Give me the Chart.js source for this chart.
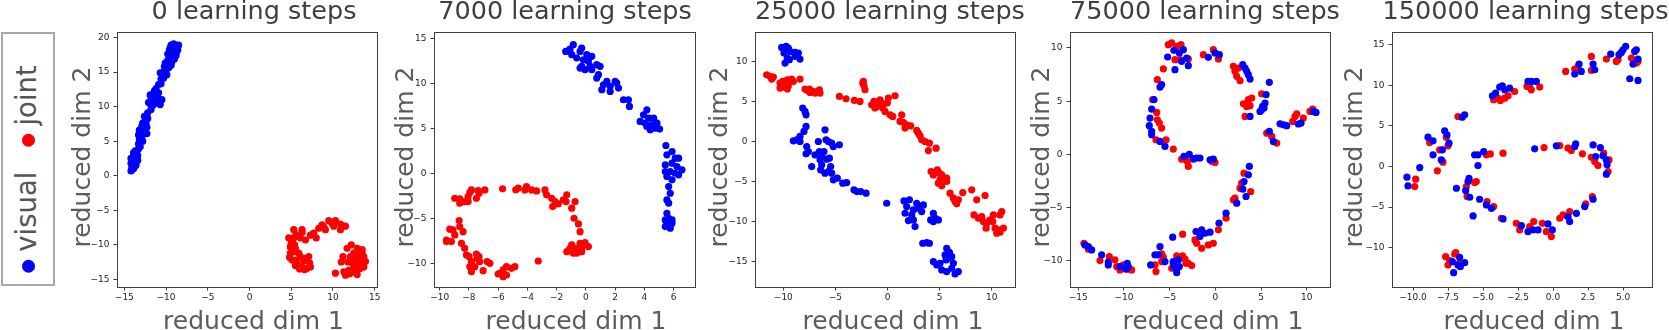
<!DOCTYPE html>
<html>
<head>
<meta charset="utf-8">
<script src="https://cdn.jsdelivr.net/npm/chart.js@4.4.1/dist/chart.umd.min.js"></script>
<style>
  html, body { margin: 0; padding: 0; background: #fff; overflow: hidden; }
  #figure { position: relative; width: 1669px; height: 330px; }
  #figure canvas { position: absolute; top: 0; }
  #legend {
    position: absolute; left: 1px; top: 32px; width: 54px; height: 254px;
    box-sizing: border-box; border: 2px solid #a8a8a8;
  }
  #legend ul {
    position: absolute; left: 22.5px; top: 134.5px; margin: 0; padding: 0;
    list-style: none; white-space: nowrap; line-height: 1;
    font: 27.5px "DejaVu Sans"; color: #555;
    transform: translate(-50%, -50%) rotate(-90deg);
  }
  #legend li { display: inline; }
  #legend li + li { margin-left: 25px; }
  .legend-dot {
    display: inline-block; width: 13px; height: 13px; border-radius: 50%;
    margin-right: 8px; vertical-align: middle;
  }
</style>
</head>
<body>
<div id="figure">
  <div id="legend"><ul id="legend-items"></ul></div>
</div>
<script>
const stepCounts = [0, 7000, 25000, 75000, 150000]

const visual0 = [
  [-14.2,0.7],[-14.1,1.2],[-13.9,1.0],[-14.2,1.8],[-13.9,1.6],[-14.0,2.3],[-13.7,2.1],[-13.8,2.7],
  [-13.5,2.5],[-13.6,3.1],[-13.4,2.9],[-13.5,3.5],[-13.3,3.9],[-13.6,1.5],[-13.4,2.2],[-14.2,2.5],
  [-13.9,3.3],[-14.1,0.9],[-13.8,1.3],[-13.7,3.6],[-13.1,4.2],
  [-13.3,4.6],[-13.2,5.2],[-13.3,5.9],[-13.0,5.8],[-13.2,6.6],[-12.9,6.5],[-12.7,6.0],[-12.6,6.9],
  [-12.9,7.2],[-12.5,6.4],[-12.4,7.5],[-12.5,7.9],[-12.2,8.3],[-12.2,9.1],
  [-12.8,5.0],[-12.3,6.1],[-12.8,7.6],[-12.3,7.0],[-12.6,8.6],[-11.8,9.6],
  [-12.1,10.6],[-11.9,10.8],[-11.7,11.0],[-11.9,10.4],[-11.5,11.5],[-11.3,10.7],[-11.6,10.2],[-11.2,11.9],
  [-10.9,12.0],[-11.0,11.3],[-10.7,10.3],[-11.2,12.6],[-10.9,13.2],[-10.6,14.0],
  [-11.6,10.7],[-11.9,11.7],[-11.4,12.3],[-10.5,11.0],[-10.9,10.6],[-11.4,10.4],[-10.6,13.3],
  [-10.4,14.5],[-10.3,15.0],[-10.0,15.3],[-10.2,15.8],[-9.9,16.2],[-9.7,15.6],[-9.8,16.7],[-9.5,17.0],
  [-9.6,17.4],[-9.3,17.3],[-9.4,17.9],[-9.1,17.7],[-9.2,18.3],[-8.9,18.1],[-9.0,18.7],[-8.7,18.5],
  [-8.8,18.9],[-8.6,18.2],[-8.7,18.7],[-9.5,18.5],[-9.6,18.2],[-8.8,17.8],[-9.0,16.9],[-9.3,16.5],
  [-10.3,14.1],[-10.7,14.9],[-10.1,16.3],[-9.8,17.6],[-9.4,18.9],[-9.1,19.1],[-8.5,18.9],[-8.8,17.4],
  [-9.4,16.0],[-9.9,14.6]
]
const joint0 = [
  [5.3,-7.8],[6.3,-7.8],[6.3,-8.2],[7.7,-8.3],[8.3,-7.6],[8.7,-7.1],[9.5,-6.5],[10.3,-6.5],
  [10.9,-7.0],[11.5,-7.3],[10.1,-7.3],[9.1,-7.8],[8.0,-9.0],[10.9,-7.8],[9.9,-6.9],[8.9,-7.4],[7.3,-8.6],
  [4.7,-9.0],[4.9,-10.3],[5.3,-11.0],[5.1,-12.2],[5.7,-12.7],[6.3,-13.2],[6.9,-13.4],[7.3,-13.2],
  [7.1,-11.7],[6.1,-11.7],[5.9,-11.2],[5.5,-10.5],[5.1,-9.5],[6.1,-9.0],[6.7,-9.3],[5.6,-8.5],
  [4.9,-11.2],[5.5,-13.0],[6.5,-12.3],[5.3,-9.0],
  [5.0,-9.8],[5.4,-10.0],[4.8,-11.8],[5.6,-12.2],[6.0,-13.5],[6.6,-13.6],[7.2,-12.6],[6.8,-11.9],
  [11.7,-10.5],[12.1,-11.7],[12.9,-10.5],[13.5,-10.7],[13.7,-11.7],[13.9,-12.4],[13.1,-12.7],[12.5,-13.2],
  [11.9,-13.7],[11.3,-13.9],[11.5,-14.4],[12.5,-13.9],[13.3,-13.4],[12.7,-12.0],[13.2,-11.5],[11.2,-11.7],
  [12.5,-11.2],[10.3,-14.1],[13.7,-13.2],[12.9,-13.8],[12.2,-10.0],[13.0,-11.1],
  [11.8,-12.5],[12.3,-12.6],[12.0,-14.2],[12.9,-14.3],[13.5,-11.2],[13.4,-12.1],[11.0,-12.5]
]

const visual7000 = [
  [-1.38,13.62],[-1.09,13.88],[-0.86,14.37],[-0.97,13.25],[-0.63,12.88],[-0.4,13.62],[-0.29,13.99],
  [-0.17,12.69],[-0.29,11.95],[0.06,13.25],[0.17,12.51],[0.4,13.07],[0.4,11.58],[0.74,12.14],[0.97,11.95],
  [0.86,11.02],[0.74,10.65],[0.29,11.95],[-0.4,11.76],[-0.06,11.58],
  [1.2,9.9],[1.43,10.28],[1.66,9.72],[1.09,9.35],[1.66,9.16],[2.11,10.09],[2.23,9.53],[2.0,10.28],
  [2.57,8.23],[2.91,8.23],[2.98,7.48],
  [3.71,5.81],[3.94,6.55],[4.17,7.11],[4.29,6.18],[4.17,5.25],[4.06,5.62],[4.51,5.44],[4.63,6.18],
  [4.86,5.62],[5.04,4.96],[4.74,5.07],[4.4,4.88],
  [5.47,3.13],[5.54,2.09],[5.89,2.46],[6.11,1.72],[6.34,1.72],[5.43,0.97],[5.89,1.16],[6.23,0.79],
  [6.57,0.42],[5.43,0.23],[5.77,0.23],[6.11,0.04],[6.34,-0.14],[5.54,-0.33],[5.89,-0.7],[5.66,-1.44],
  [5.77,-2.19],[5.54,-2.93],[5.66,-3.3],[5.54,-4.42],[5.66,-4.98],[5.43,-5.16],[5.89,-5.16],[5.54,-5.72],
  [5.77,-6.09],[5.43,-5.91],[5.89,-5.53],[5.71,-5.35]
]
const joint7000 = [
  [-5.7,-1.7],[-4.63,-1.63],[-4.06,-1.44],[-3.71,-1.82],[-3.37,-1.93],[-4.17,-1.82],[-2.8,-1.82],
  [-2.69,-2.37],[-2.34,-2.75],[-2.11,-3.12],[-2.27,-3.68],[-1.89,-3.38],[-1.54,-2.93],[-1.31,-2.37],
  [-1.36,-3.12],[-0.97,-3.86],[-0.74,-3.12],[-4.8,-1.8],
  [-0.81,-4.98],[-0.51,-5.61],[-0.4,-6.47],[-0.4,-7.77],[-0.06,-7.7],[0.17,-8.14],[-0.29,-8.33],
  [-0.63,-8.33],[-0.86,-8.88],[-1.09,-8.33],[-0.97,-7.95],[-0.63,-8.88],[-1.31,-8.7],[-0.29,-8.7],[-3.26,-9.74],
  [-4.86,-10.37],[-5.09,-10.56],[-5.43,-10.37],[-5.66,-10.74],[-5.89,-11.12],[-5.43,-11.3],[-5.66,-11.49],
  [-6.0,-11.19],[-6.57,-10.0],[-6.75,-9.81],[-7.03,-10.82],[-7.26,-9.81],[-7.44,-9.44],[-7.49,-8.96],
  [-7.83,-9.81],[-7.94,-10.37],[-7.83,-10.93],[-7.99,-9.26],[-8.17,-9.07],[-7.6,-10.37],[-7.31,-9.26],
  [-8.29,-8.33],[-8.51,-7.77],[-8.4,-6.47],[-8.63,-5.91],[-8.67,-5.24],[-8.97,-6.84],[-9.2,-7.58],
  [-9.54,-7.58],[-9.31,-6.2],[-9.54,-7.4],[-9.09,-6.28],
  [-8.97,-2.75],[-8.63,-2.82],[-8.63,-3.3],[-8.29,-3.12],[-8.06,-2.56],[-7.94,-2.11],[-7.83,-1.82],
  [-8.06,-3.12],[-7.49,-2.75],[-7.37,-1.89],[-7.31,-2.19],[-6.91,-1.82]
]

const visual25000 = [
  [-10.16,11.75],[-9.74,11.88],[-9.52,11.67],[-9.94,11.04],[-9.62,10.42],[-9.84,9.79],[-9.36,11.25],
  [-8.88,11.13],[-8.56,11.04],[-8.4,10.29],[-8.88,10.63],[-9.42,10.21],
  [-8.14,4.17],[-7.92,3.75],[-7.82,3.33],[-7.82,1.88],[-8.02,1.25],[-8.4,0.63],[-8.72,0.21],[-9.04,0.08],
  [-8.4,0.0],[-7.76,-0.63],[-7.6,-1.25],[-7.82,-1.54],[-7.28,-3.13],
  [-6.96,-1.67],[-6.64,0.0],[-6.54,-1.25],[-6.48,-2.29],[-6.32,-1.88],[-6.32,-2.92],[-6.42,-3.54],
  [-6.0,1.46],[-5.9,0.21],[-5.68,0.0],[-5.36,-0.21],[-5.2,-0.63],[-4.62,-0.42],[-5.84,-2.21],[-5.58,-2.08],
  [-6.0,-3.96],[-5.68,-3.75],[-5.46,-3.13],[-5.36,-3.96],[-6.1,-1.25],
  [-5.2,-4.79],[-4.82,-4.58],[-4.3,-5.21],[-3.92,-5.13],[-3.22,-6.04],[-2.96,-6.25],[-2.58,-6.25],
  [-2.06,-6.46],[-0.08,-7.71],
  [1.58,-7.42],[2.1,-7.29],[1.84,-8.13],[1.68,-8.96],[2.0,-9.88],[2.32,-9.17],[2.48,-8.54],[2.8,-7.71],
  [2.96,-8.33],[3.12,-8.13],[3.44,-7.92],[3.28,-8.75],[2.64,-10.63],[2.48,-9.79],[3.38,-12.71],
  [3.76,-12.63],[4.02,-12.71],[4.14,-9.79],[4.4,-8.96],[4.56,-9.58],[4.88,-9.79],[4.4,-10.0],
  [5.68,-13.33],[5.52,-14.17],[5.84,-14.58],[6.16,-14.38],[6.32,-15.21],[4.4,-15.0],[4.72,-15.42],
  [5.04,-15.21],[5.2,-16.04],[5.68,-16.25],[6.16,-15.83],[6.48,-16.54],[6.8,-16.25],[5.94,-13.83],[5.62,-14.79]
]
const joint25000 = [
  [-11.6,8.33],[-11.28,8.13],[-10.96,8.04],[-11.12,7.79],[-10.32,7.29],[-10.16,6.79],[-10.32,6.67],
  [-9.84,6.79],[-9.52,6.96],[-9.62,7.71],[-9.2,7.79],[-9.04,7.5],[-9.62,6.54],[-8.4,7.79],[-10.06,7.5],
  [-7.92,6.54],[-7.5,6.54],[-7.44,6.13],[-7.12,6.25],[-6.96,6.04],[-6.54,6.46],[-6.48,6.04],[-7.7,6.38],
  [-4.62,5.63],[-3.98,5.33],[-3.18,5.13],[-2.64,5.0],[-2.32,7.5],[-2.26,6.96],[-2.16,6.46],[-2.38,7.29],
  [-1.52,4.58],[-1.3,5.0],[-1.04,4.38],[-0.72,5.21],[-0.46,4.17],[-0.24,3.75],[-0.02,4.79],[0.08,5.42],
  [0.24,3.33],[0.5,3.13],[0.72,5.71],[-0.56,4.79],[-1.2,4.17],
  [1.36,3.33],[1.2,2.5],[1.52,2.38],[1.84,2.08],[1.68,1.67],[2.22,1.96],[2.8,1.38],[3.12,0.71],
  [3.28,0.21],[3.6,0.0],[4.02,-0.21],[3.92,-1.13],[4.66,-0.83],[2.96,1.04],
  [4.18,-3.75],[4.4,-4.17],[4.78,-3.54],[4.98,-3.96],[5.2,-4.17],[5.42,-4.58],[5.04,-4.79],[4.88,-5.21],
  [5.68,-5.0],[5.2,-5.54],[6.0,-6.46],[6.32,-7.08],[6.48,-7.5],[6.8,-7.29],[7.22,-6.38],[6.64,-7.79],[5.68,-4.58],
  [8.08,-6.04],[8.56,-7.29],[9.36,-6.75],[8.3,-9.17],[8.72,-9.58],[9.04,-9.38],[9.2,-10.0],[9.52,-10.21],
  [9.46,-10.83],[9.84,-9.79],[10.16,-9.17],[10.1,-10.0],[10.32,-10.83],[10.48,-11.46],[10.8,-11.33],
  [10.96,-8.75],[10.8,-9.17],[11.12,-10.83],[10.64,-11.04]
]

const visual75000 = [
  [-4.53,9.78],[-3.94,9.53],[-3.5,9.84],[-3.69,8.75],[-4.42,7.96],[-3.14,9.06],[-2.96,8.34],[-5.22,9.15],
  [-0.77,9.12],[-0.04,9.53],[0.44,9.37],
  [3.0,8.43],[3.25,8.12],[3.43,7.81],[3.61,7.49],[3.8,7.08],[5.91,6.77],
  [3.8,3.57],[4.89,4.04],[5.18,4.51],[5.44,4.82],[5.55,5.61],[5.07,4.2],[5.33,4.36],
  [5.91,2.16],[6.35,1.22],[7.08,2.88],[7.45,2.79],[7.81,2.7],[9.09,2.86],[9.38,2.95],[10.73,4.04],[11.02,3.95],
  [-5.88,6.55],[-6.06,6.33],[-6.72,5.14],[-6.97,4.26],[-7.15,3.42],[-7.23,2.7],[-6.97,2.16],[-6.97,1.85],
  [-6.06,1.22],[-5.51,0.75],
  [-3.43,-0.19],[-2.85,0.0],[-2.41,-0.38],[-2.04,-0.34],[-1.68,-0.34],[-0.58,-0.5],[-0.22,-0.44],
  [3.72,-1.13],[3.61,-1.91],[3.14,-2.54],[3.0,-3.26],[3.36,-3.95],[2.34,-4.58],[1.17,-5.52],[0.4,-6.46],
  [-0.58,-7.3],[-1.13,-7.4],[-1.5,-7.08],[-2.12,-7.24],[-1.68,-7.71],
  [-4.67,-7.77],
  [-7.08,-10.38],[-6.61,-9.43],[-6.24,-9.43],[-6.06,-8.65],[-5.51,-10.06],[-4.6,-10.22],[-4.53,-10.53],
  [-4.23,-10.78],[-3.94,-10.53],[-4.23,-11.1],[-4.6,-10.06],[-4.05,-9.9],
  [-14.27,-8.5],[-13.9,-8.65],[-13.54,-8.97],[-12.45,-9.43],[-11.72,-10.38],[-10.44,-10.53],[-9.64,-10.22],
  [-9.53,-10.53],[-9.78,-10.78],[-11.72,-10.1]
]
const joint75000 = [
  [-5.15,10.31],[-4.78,10.47],[-4.23,10.16],[-3.76,10.31],[-4.42,8.9],[-3.87,8.9],[-2.96,8.97],
  [-1.31,9.37],[-0.22,9.84],[0.33,8.97],
  [1.97,8.28],[2.15,7.81],[2.34,7.34],[2.7,6.93],[2.52,8.12],
  [3.07,4.76],[3.61,5.14],[3.98,5.3],[3.43,4.51],[3.8,4.58],[3.25,3.57],[5.07,5.7],
  [5.62,2.0],[6.17,1.69],[6.72,1.07],[8.47,3.1],[8.72,3.57],[8.91,3.82],[9.63,3.42],[10.36,4.04],[10.66,4.26],
  [-6.35,7.02],[-5.69,8.03],[-6.86,5.14],[-6.42,3.95],[-6.35,3.26],[-5.88,2.48],[-6.13,2.95],[-6.5,1.38],
  [-5.4,1.38],[-4.6,0.5],
  [-3.69,-0.44],[-3.07,-0.66],[-2.96,-1.13],[-2.41,-0.44],[-0.4,-0.66],[-0.04,-0.75],
  [3.14,-1.76],[2.88,-2.7],[2.7,-3.17],[3.87,-3.48],[2.15,-4.11],[1.97,-4.26],[1.17,-5.99],[0.33,-7.08],
  [-0.77,-8.5],[-0.22,-8.34],[-1.5,-8.81],
  [-2.23,-8.03],[-2.04,-8.34],[-3.58,-7.49],[-4.23,-9.53],[-3.58,-9.53],[-3.32,-9.84],[-2.96,-10.22],
  [-2.59,-10.44],[-3.21,-10.22],
  [-5.88,-9.34],[-5.69,-9.65],[-5.88,-10.06],[-6.61,-10.38],[-6.5,-11.0],[-4.78,-10.69],
  [-14.38,-8.34],[-13.9,-8.9],[-12.63,-9.97],[-11.61,-9.59],[-10.99,-9.9],[-10.8,-10.53],[-10.07,-10.38],
  [-9.53,-10.78],[-9.16,-10.85],[-10.44,-10.85]
]

const visual150000 = [
  [4.12,13.85],[4.88,14.05],[5.0,14.38],[5.19,14.79],[5.83,14.18],[5.95,14.38],[6.07,13.23],[5.71,12.62],
  [5.48,10.81],[6.07,10.6],[4.71,13.77],
  [1.55,11.38],[1.86,12.62],[2.02,11.71],[2.86,12.62],[2.98,11.92],
  [-1.79,10.48],[-1.55,10.48],[-1.19,10.48],
  [-4.33,8.71],[-4.1,9.04],[-3.81,9.78],[-3.62,9.94],[-3.45,9.45],[-3.1,9.65],
  [-6.48,6.08],[-6.31,6.37],
  [-8.93,3.61],[-8.57,3.16],[-7.74,4.39],[-7.57,3.9],[-7.43,2.87],[-8.57,1.43],[-7.9,2.05],[-7.98,0.81],[-9.52,-0.13],
  [-10.43,-1.32],[-10.36,-2.39],
  [-7.19,-11.73],[-7.1,-13.08],[-6.79,-12.14],[-6.67,-11.19],[-6.31,-11.85],[-6.62,-12.34],
  [-5.6,1.43],[-5.36,1.43],[-4.95,1.84],[-5.36,0.11],[-6.0,-1.45],[-6.07,-1.86],[-6.9,-2.68],[-6.24,-2.97],
  [-5.95,-3.79],[-5.24,-4.04],[-4.76,-4.74],[-4.4,-5.15],[-5.71,-6.09],[-3.57,-6.46],
  [-2.26,-7.29],[-1.79,-8.03],[-1.43,-7.82],[-1.07,-7.82],[-0.36,-7.08],[-0.05,-7.82],[1.07,-6.18],
  [1.19,-6.79],[1.67,-5.77],[2.26,-4.94],[2.86,-4.04],
  [-1.31,2.17],[0.24,2.54],[1.55,2.46],[1.62,2.79],[2.86,2.66],[3.38,2.33],[3.57,1.31],[3.05,1.23],
  [3.81,0.81],[3.86,0.2],[3.81,-0.95]
]
const joint150000 = [
  [3.81,13.23],[4.52,12.94],[4.64,13.15],[5.6,13.36],[5.76,13.07],[5.95,12.74],[6.07,12.94],
  [0.9,11.71],[1.55,12.0],[1.79,12.33],[2.74,13.56],[2.74,11.83],
  [-1.86,9.86],[-1.55,9.45],[-0.95,9.78],[-1.67,9.78],
  [-4.24,8.22],[-3.93,8.42],[-3.76,8.13],[-3.45,8.42],[-3.21,8.71],[-2.74,9.24],
  [-6.79,6.16],
  [-8.81,2.95],[-8.1,2.05],[-7.62,3.61],[-7.5,2.54],[-7.86,0.53],[-8.26,-0.54],
  [-9.81,-1.57],[-9.88,-2.48],
  [-7.67,-11.11],[-7.5,-12.14],[-7.02,-10.78],[-6.95,-10.62],[-6.67,-11.85],[-7.38,-11.6],
  [-4.76,1.43],[-4.48,1.55],[-3.57,1.64],[-6.19,-2.48],[-5.6,-1.98],[-5.48,-1.86],[-6.14,-3.71],
  [-4.71,-4.33],[-4.24,-4.94],[-3.69,-6.38],
  [-2.62,-7.0],[-2.38,-7.82],[-1.67,-7.41],[-1.38,-6.79],[-0.76,-7.0],[-0.48,-8.03],[-0.12,-8.64],
  [0.48,-6.38],[0.71,-5.97],[1.19,-5.56],[2.33,-4.61],[2.81,-3.71],
  [-0.64,2.33],[0.48,2.58],[1.07,2.25],[1.31,1.97],[2.1,1.56],[2.74,1.14],[2.98,0.61],[3.21,0.11],
  [4.0,0.81],[3.93,-0.62],[3.62,1.64]
]

const xTicks0 = [-15, -10, -5, 0, 5, 10, 15]
const yTicks0 = [-15, -10, -5, 0, 5, 10, 15, 20]
const xTicks7000 = [-10, -8, -6, -4, -2, 0, 2, 4, 6]
const yTicks7000 = [-10, -5, 0, 5, 10, 15]
const xTicks25000 = [-10, -5, 0, 5, 10]
const yTicks25000 = [-15, -10, -5, 0, 5, 10]
const xTicks75000 = [-15, -10, -5, 0, 5, 10]
const yTicks75000 = [-10, -5, 0, 5, 10]
const xTicks150000 = [-10, -7.5, -5, -2.5, 0, 2.5, 5]
const yTicks150000 = [-10, -5, 0, 5, 10, 15]

const xLimits = [[-15.88, 15.4], [-10.39, 7.53], [-12.72, 12.33], [-15.91, 12.66], [-11.5, 7.14]]
const yLimits = [[-16.1, 20.8], [-12.64, 15.78], [-18.17, 13.67], [-12.45, 11.5], [-14.85, 16.57]]

// page geometry of each panel: axes frame and anchors for the hand placed texts
const PANELS = [
  {left: 117, right: 378, titleX: 254, xLabelX: 253.5, yLabelX: 90},
  {left: 434, right: 696, titleX: 565, xLabelX: 576, yLabelX: 413},
  {left: 755, right: 1016, titleX: 890, xLabelX: 893, yLabelX: 726.5},
  {left: 1070, right: 1331, titleX: 1205, xLabelX: 1213, yLabelX: 1049},
  {left: 1392, right: 1653, titleX: 1525.5, xLabelX: 1534, yLabelX: 1361.5},
]
const FIG_HEIGHT = 330
const FRAME_TOP = 32
const FRAME_BOTTOM = 287
const Y_AXIS_WIDTH = 62
const RIGHT_PAD = 16

const BLUE = '#0000ff'
const RED = '#ff0000'
const FRAME_COLOR = '#404040'
const TICK_FONT = {family: 'DejaVu Sans', size: 9}

const panelText = {
  id: 'panelText',
  afterDraw(chart, _args, opts) {
    const {ctx, chartArea} = chart
    const {panel, title} = opts
    const offset = panel.left - Y_AXIS_WIDTH

    ctx.save()
    ctx.strokeStyle = FRAME_COLOR
    ctx.lineWidth = 1
    ctx.strokeRect(chartArea.left + 0.5, chartArea.top + 0.5,
      chartArea.right - chartArea.left - 1, chartArea.bottom - chartArea.top)

    ctx.textAlign = 'center'
    ctx.textBaseline = 'alphabetic'
    ctx.fillStyle = '#3f3f3f'
    ctx.font = '25.5px "DejaVu Sans"'
    ctx.fillText(title, panel.titleX - offset, 18.5)

    ctx.fillStyle = '#5c5c5c'
    ctx.font = '25px "DejaVu Sans"'
    ctx.fillText('reduced dim 1', panel.xLabelX - offset, 329)

    ctx.translate(panel.yLabelX - offset, 157)
    ctx.rotate(-Math.PI / 2)
    ctx.fillText('reduced dim 2', 0, 0)
    ctx.restore()
  }
}

const formatTick = (value, decimals) => value.toFixed(decimals).replace('-', '\u2212')

const axisOptions = (limits, ticks, decimals, horizontal) => ({
  type: 'linear',
  min: limits[0],
  max: limits[1],
  afterBuildTicks: (scale) => { scale.ticks = ticks.map(value => ({value})) },
  afterFit: (scale) => {
    if (horizontal) scale.height = FIG_HEIGHT - FRAME_BOTTOM
    else scale.width = Y_AXIS_WIDTH
  },
  grid: {drawOnChartArea: false, drawTicks: true, tickLength: 3.5, color: FRAME_COLOR, lineWidth: 1},
  border: {display: false},
  ticks: {
    font: TICK_FONT,
    color: '#262626',
    padding: horizontal ? 1.5 : 4,
    autoSkip: false,
    maxRotation: 0,
    callback: (value) => formatTick(value, decimals),
  },
})

const generateLegendItem = (dataset) => {
  const li = document.createElement('li')

  const dot = document.createElement('span')
  dot.className = 'legend-dot'
  dot.style.background = dataset.backgroundColor

  const text = document.createTextNode(dataset.label)
  li.appendChild(dot)
  li.appendChild(text)

  return li
}

const series = [
  [visual0, joint0, xTicks0, yTicks0, 0],
  [visual7000, joint7000, xTicks7000, yTicks7000, 0],
  [visual25000, joint25000, xTicks25000, yTicks25000, 0],
  [visual75000, joint75000, xTicks75000, yTicks75000, 0],
  [visual150000, joint150000, xTicks150000, yTicks150000, 1],
]

const figure = document.getElementById('figure')
const charts = series.map(([visual, joint, xTicks, yTicks, decimals], i) => {
  const panel = PANELS[i]
  const canvas = document.createElement('canvas')
  canvas.width = Y_AXIS_WIDTH + (panel.right - panel.left) + RIGHT_PAD
  canvas.height = FIG_HEIGHT
  canvas.style.left = `${panel.left - Y_AXIS_WIDTH}px`
  figure.appendChild(canvas)

  const dot = {pointRadius: 3.6, pointHoverRadius: 3.6, pointBorderWidth: 0}
  return new Chart(canvas.getContext('2d'), {
    type: 'scatter',
    data: {
      datasets: [
        {label: 'visual', data: visual, backgroundColor: BLUE, borderColor: BLUE, ...dot},
        {label: 'joint', data: joint, backgroundColor: RED, borderColor: RED, ...dot},
      ],
    },
    options: {
      responsive: false,
      animation: false,
      devicePixelRatio: 1,
      events: [],
      layout: {padding: {top: FRAME_TOP, right: RIGHT_PAD, bottom: 0, left: 0}},
      plugins: {
        legend: {display: false},
        tooltip: {enabled: false},
        panelText: {panel, title: `${stepCounts[i]} learning steps`},
      },
      scales: {
        x: axisOptions(xLimits[i], xTicks, decimals, true),
        y: axisOptions(yLimits[i], yTicks, 0, false),
      },
    },
    plugins: [panelText],
  })
})

const legendList = document.getElementById('legend-items')
charts[0].data.datasets.forEach(dataset => legendList.appendChild(generateLegendItem(dataset)))
</script>
</body>
</html>
